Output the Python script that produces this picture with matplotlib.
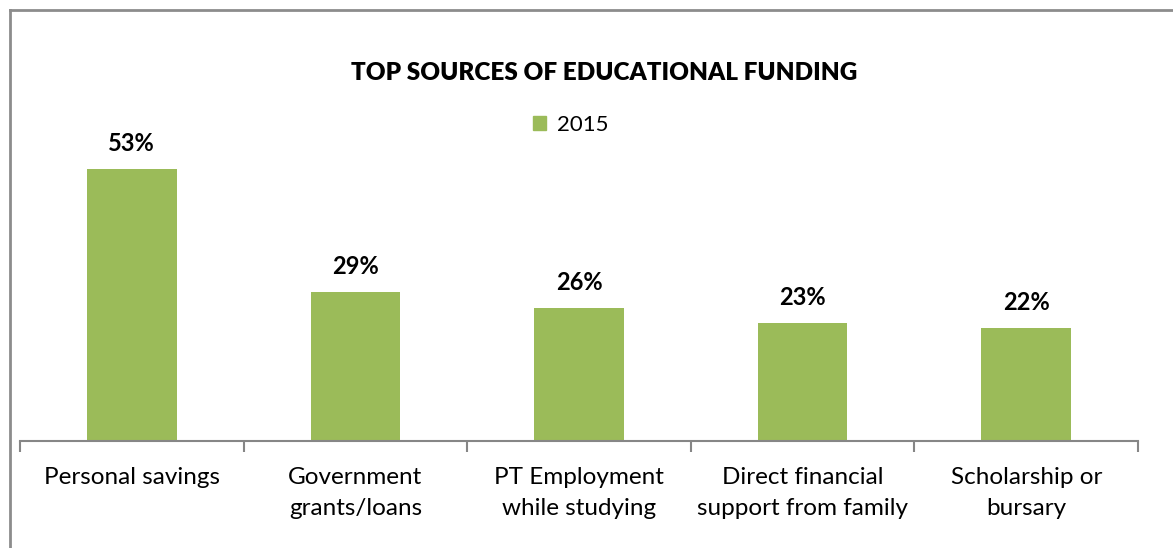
import matplotlib.pyplot as plt
from matplotlib.lines import Line2D
from matplotlib.patches import Patch

categories = ["Personal savings", "Government\ngrants/loans", "PT Employment\nwhile studying",
              "Direct financial\nsupport from family", "Scholarship or\nbursary"]
values_2015 = [53, 29, 26, 23, 22]
series_name = "2015"

green = "#9BBB59"
axis_grey = "#868686"

plt.rcParams['font.family'] = ['Lato', 'DejaVu Sans']

fig = plt.figure(figsize=(11.73, 5.48), dpi=100)
ax = fig.add_axes([20 / 1173, 107 / 548, 1118 / 1173, 308 / 548])

x = range(len(categories))
bars = ax.bar(x, values_2015, width=0.4, color=green, zorder=2)
for b, v in zip(bars, values_2015):
    ax.annotate(f"{v}%", (b.get_x() + b.get_width() / 2, v), xytext=(0, 10),
                textcoords="offset points", ha="center", va="bottom",
                fontsize=17, fontweight="bold")

ax.set_xlim(-0.5, len(categories) - 0.5)
ax.set_ylim(0, 60)
ax.set_yticks([])
for s in ["top", "right", "left"]:
    ax.spines[s].set_visible(False)
ax.spines["bottom"].set_color(axis_grey)
ax.spines["bottom"].set_linewidth(1.5)

# category labels centred, tick marks on the boundaries
ax.set_xticks(list(x))
ax.set_xticklabels(categories, fontsize=17.5, linespacing=1.55)
ax.tick_params(axis="x", which="major", length=0, pad=19)
ax.set_xticks([i - 0.5 for i in range(len(categories) + 1)], minor=True)
ax.tick_params(axis="x", which="minor", length=8, width=1.5, color=axis_grey, direction="out")

fig.text(604 / 1173, 1 - 73 / 548, "TOP SOURCES OF EDUCATIONAL FUNDING",
         ha="center", va="center", fontsize=17.5, fontweight="heavy")
fig.legend(handles=[Patch(color=green, label=series_name)], loc="center",
           bbox_to_anchor=(571 / 1173, 1 - 125 / 548), frameon=False, fontsize=16,
           handlelength=0.6, handleheight=0.6, handletextpad=0.5)

# chart border along the top and left edges
fig.add_artist(Line2D([10 / 1173, 10 / 1173], [0, 1 - 10 / 548], transform=fig.transFigure,
                      color="#8c8c8c", lw=2))
fig.add_artist(Line2D([10 / 1173, 1], [1 - 10 / 548, 1 - 10 / 548], transform=fig.transFigure,
                      color="#8c8c8c", lw=2))

fig.savefig("out.png", dpi=100)
